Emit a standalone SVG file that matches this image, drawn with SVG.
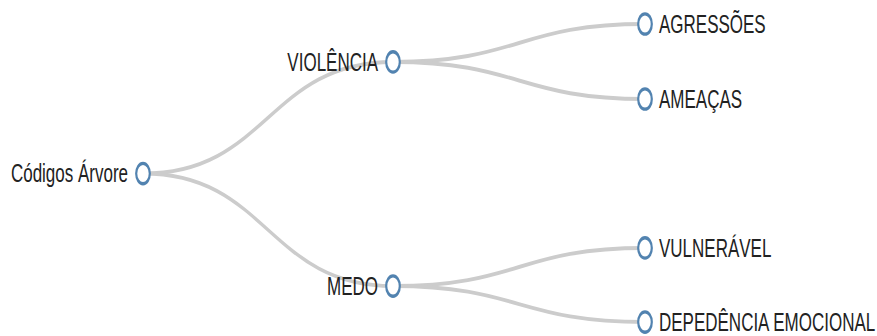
<svg xmlns="http://www.w3.org/2000/svg" width="877" height="336" viewBox="0 0 877 336">
<style>
.link{fill:none;stroke:#cccccc;stroke-width:2.6}
.node circle{fill:#ffffff;stroke:#5283b0;stroke-width:2.2}
.node text{font-family:"Liberation Sans",Arial,sans-serif;font-size:17px;fill:#222222}
</style>
<rect width="877" height="336" fill="#ffffff"/>
<g transform="scale(1,1.5)">
<g id="links">
<path class="link" d="M143,115.7 C268,115.7 268,41.3 393,41.3"/>
<path class="link" d="M143,115.7 C268,115.7 268,190.7 393,190.7"/>
<path class="link" d="M393,41.3 C519,41.3 519,16 645,16"/>
<path class="link" d="M393,41.3 C519,41.3 519,66 645,66"/>
<path class="link" d="M393,190.7 C519,190.7 519,165.3 645,165.3"/>
<path class="link" d="M393,190.7 C519,190.7 519,214.7 645,214.7"/>
</g>
<g id="node-root" class="node" transform="translate(143,115.7)">
<circle r="6.8"/>
<text x="-15" dy="0.35em" text-anchor="end">Códigos Árvore</text>
</g>
<g id="node-violencia" class="node" transform="translate(393,41.3)">
<circle r="6.8"/>
<text x="-15" dy="0.35em" text-anchor="end">VIOLÊNCIA</text>
</g>
<g id="node-medo" class="node" transform="translate(393,190.7)">
<circle r="6.8"/>
<text x="-15" dy="0.35em" text-anchor="end">MEDO</text>
</g>
<g id="node-agressoes" class="node" transform="translate(645,16)">
<circle r="6.8"/>
<text x="14" dy="0.35em">AGRESSÕES</text>
</g>
<g id="node-ameacas" class="node" transform="translate(645,66)">
<circle r="6.8"/>
<text x="14" dy="0.35em">AMEAÇAS</text>
</g>
<g id="node-vulneravel" class="node" transform="translate(645,165.3)">
<circle r="6.8"/>
<text x="14" dy="0.35em">VULNERÁVEL</text>
</g>
<g id="node-dependencia" class="node" transform="translate(645,214.7)">
<circle r="6.8"/>
<text x="14" dy="0.35em">DEPEDÊNCIA EMOCIONAL</text>
</g>
</g>
</svg>
